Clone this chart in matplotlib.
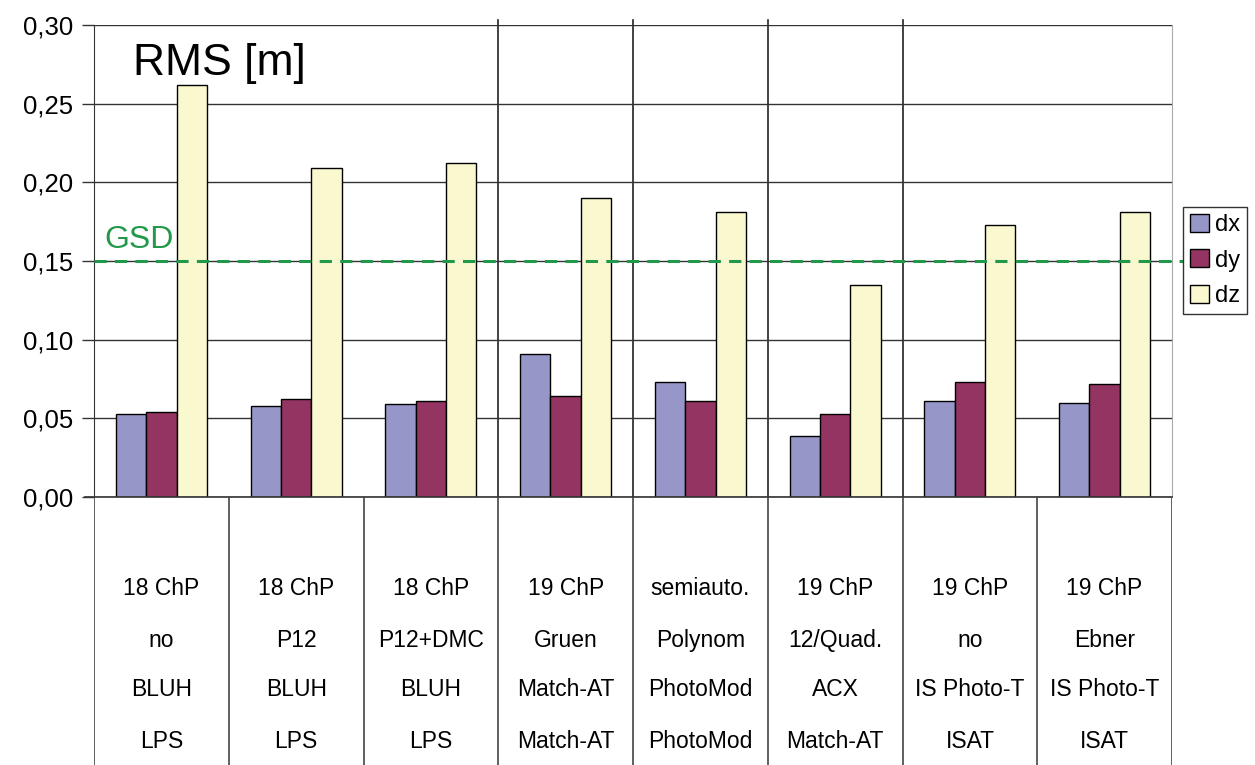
import matplotlib
matplotlib.use("Agg")
import matplotlib.pyplot as plt
import numpy as np
from matplotlib.ticker import FuncFormatter, MultipleLocator

plt.rcParams["font.family"] = ["Liberation Sans", "DejaVu Sans"]

# label rows under each group: control points / self-calibration / AT program
row_points = ["18 ChP", "18 ChP", "18 ChP", "19 ChP", "semiauto.", "19 ChP", "19 ChP", "19 ChP"]
row_param = ["no", "P12", "P12+DMC", "Gruen", "Polynom", "12/Quad.", "no", "Ebner"]
row_orient = ["BLUH", "BLUH", "BLUH", "Match-AT", "PhotoMod", "ACX", "IS Photo-T", "IS Photo-T"]
row_soft = ["LPS", "LPS", "LPS", "Match-AT", "PhotoMod", "Match-AT", "ISAT", "ISAT"]

dx = [0.053, 0.058, 0.059, 0.091, 0.073, 0.039, 0.061, 0.060]
dy = [0.054, 0.062, 0.061, 0.064, 0.061, 0.053, 0.073, 0.072]
dz = [0.262, 0.209, 0.212, 0.190, 0.181, 0.135, 0.173, 0.181]
gsd = 0.15

series = [("dx", dx, "#9696c8"), ("dy", dy, "#943462"), ("dz", dz, "#faf8ce")]

fig = plt.figure(figsize=(12.55, 7.65), dpi=100)
ax = fig.add_axes([94 / 1255, 1 - 497 / 765, (1172 - 94) / 1255, (497 - 25) / 765])
tab = fig.add_axes([94 / 1255, 0, (1172 - 94) / 1255, 1 - 497 / 765])

n = len(dx)
x = np.arange(n)
w = 0.225
for i, (name, vals, col) in enumerate(series):
    ax.bar(x + (i - 1) * w, vals, w, color=col, edgecolor="black", lw=1.0,
           label=name, zorder=3)

ax.set_xlim(-0.5, n - 0.5)
ax.set_ylim(0, 0.30)
ax.yaxis.set_major_locator(MultipleLocator(0.05))
ax.yaxis.set_major_formatter(FuncFormatter(lambda v, p: f"{v:.2f}".replace(".", ",")))
ax.tick_params(axis="y", direction="out", length=9, width=1, color="#333",
               labelsize=18.5, pad=6)
ax.set_xticks([])
ax.grid(axis="y", color="#333", lw=1.0, zorder=1)
ax.spines["top"].set_visible(False)
ax.spines["bottom"].set_visible(False)
ax.spines["left"].set_color("#333")
ax.spines["right"].set_color("#aaa")

# separators between the later software groups
for b in [2.5, 3.5, 4.5, 5.5]:
    ax.plot([b, b], [0, 0.303], color="#222", lw=1.2, zorder=1, clip_on=False)

# GSD reference line, running out into the legend
ax.plot([-0.5, 8.0], [gsd, gsd], color="#22994a", lw=2.2, ls=(0, (4, 2.7)),
        clip_on=False, zorder=4)
ax.text(-0.42, gsd + 0.004, "GSD", color="#22994a", fontsize=23, va="bottom",
        ha="left", zorder=5)
ax.text(0.036, 0.894, "RMS [m]", transform=ax.transAxes, fontsize=32,
        ha="left", va="baseline")

fig.legend(loc="upper left", bbox_to_anchor=(1183 / 1255, 1 - 207 / 765),
           fontsize=17, handlelength=0.8, handleheight=0.8, handletextpad=0.25,
           borderpad=0.3, labelspacing=0.55, fancybox=False, framealpha=1,
           edgecolor="#333", borderaxespad=0)

# category table below the bars
tab.set_xlim(-0.5, n - 0.5)
tab.set_ylim(0, 1)
tab.axis("off")
tab.axhline(1, xmin=-9 / 1078, xmax=1, color="#333", lw=1.2, clip_on=False)
for b in np.arange(-0.5, n, 1.0):
    tab.axvline(b, color="#444", lw=1.2)
rows = [row_points, row_param, row_orient, row_soft]
row_y = [0.660, 0.466, 0.280, 0.086]
for labels, yy in zip(rows, row_y):
    for xi, lab in zip(x, labels):
        tab.text(xi, yy, lab, ha="center", va="center", fontsize=16.5)

plt.savefig("out.png", dpi=100)
